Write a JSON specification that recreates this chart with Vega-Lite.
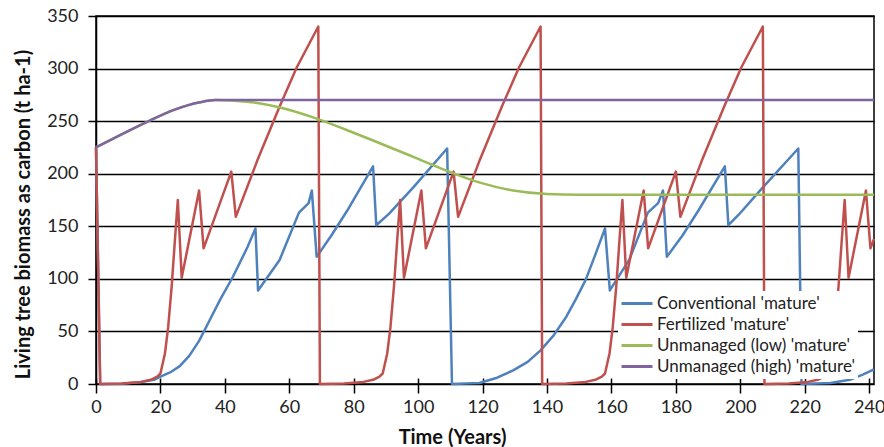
{
  "$schema": "https://vega.github.io/schema/vega-lite/v6.json",
  "width": 778,
  "height": 368,
  "autosize": {"type": "none"},
  "padding": {"left": 96, "top": 16, "right": 10, "bottom": 63},
  "background": "white",
  "config": {"font": "Lato", "view": {"stroke": "black", "strokeWidth": 1.5}},
  "encoding": {
    "x": {
      "field": "t", "type": "quantitative",
      "scale": {"domain": [0, 241.5], "nice": false, "zero": false},
      "axis": {
        "title": "Time (Years)", "values": [0,20,40,60,80,100,120,140,160,180,200,220,240],
        "grid": false, "domain": false, "offset": -6, "tickSize": 15, "tickColor": "black", "tickWidth": 1.5,
        "labelFontSize": 18, "labelColor": "#222", "labelPadding": 5, "labelFlush": false, "labelOverlap": false,
        "titleFontSize": 20, "titleFontWeight": "bold", "titleColor": "#111", "titlePadding": 11, "titleX": 356, "titleAnchor": "middle"
      }
    },
    "y": {
      "field": "v", "type": "quantitative",
      "scale": {"domain": [0, 350], "nice": false},
      "axis": {
        "title": "Living tree biomass as carbon (t ha-1)", "values": [0,50,100,150,200,250,300,350],
        "grid": true, "gridColor": "black", "gridWidth": 1.5,
        "domainColor": "black", "domainWidth": 1.5, "tickColor": "black", "tickWidth": 1.5, "tickSize": 8,
        "labelFontSize": 18, "labelColor": "#222", "labelPadding": 10,
        "titleFontSize": 20, "titleFontWeight": "bold", "titleColor": "#111", "titlePadding": 13, "titleY": 198, "titleAnchor": "middle"
      }
    },
    "color": {
      "field": "s", "type": "nominal",
      "scale": {
        "domain": ["Conventional 'mature'", "Fertilized 'mature'", "Unmanaged (low) 'mature'", "Unmanaged (high) 'mature'"],
        "range": ["#4F81BD", "#C0504D", "#9BBB59", "#8064A2"]
      },
      "legend": {
        "title": null, "orient": "none", "legendX": 522, "legendY": 275, "fillColor": "white", "padding": 2,
        "symbolType": "stroke", "symbolSize": 961, "symbolStrokeWidth": 3, "clipHeight": 21,
        "labelFontSize": 17, "labelColor": "#222", "labelOffset": 3, "labelLimit": 400, "rowPadding": 0
      }
    }
  },
  "layer": [
    {
      "data": {"values": [
        {"s":"Conventional 'mature'","t":0,"v":225},{"s":"Conventional 'mature'","t":1.3,"v":0},{"s":"Conventional 'mature'","t":8,"v":0.3},{"s":"Conventional 'mature'","t":14,"v":2},{"s":"Conventional 'mature'","t":18,"v":4},{"s":"Conventional 'mature'","t":20,"v":7},{"s":"Conventional 'mature'","t":23,"v":11},{"s":"Conventional 'mature'","t":26,"v":17},{"s":"Conventional 'mature'","t":29,"v":27},{"s":"Conventional 'mature'","t":32,"v":41},{"s":"Conventional 'mature'","t":35,"v":59},{"s":"Conventional 'mature'","t":38.5,"v":80},{"s":"Conventional 'mature'","t":42.5,"v":102},{"s":"Conventional 'mature'","t":47,"v":130},{"s":"Conventional 'mature'","t":49.5,"v":148},{"s":"Conventional 'mature'","t":50.3,"v":89},{"s":"Conventional 'mature'","t":57,"v":118},{"s":"Conventional 'mature'","t":63,"v":163},{"s":"Conventional 'mature'","t":66,"v":172},{"s":"Conventional 'mature'","t":67,"v":184},{"s":"Conventional 'mature'","t":68.5,"v":121},{"s":"Conventional 'mature'","t":73,"v":141},{"s":"Conventional 'mature'","t":78,"v":165},{"s":"Conventional 'mature'","t":86,"v":207},{"s":"Conventional 'mature'","t":87,"v":151},{"s":"Conventional 'mature'","t":91,"v":162},{"s":"Conventional 'mature'","t":98.5,"v":187},{"s":"Conventional 'mature'","t":109,"v":224},{"s":"Conventional 'mature'","t":110.5,"v":0},{"s":"Conventional 'mature'","t":119,"v":1},{"s":"Conventional 'mature'","t":124.5,"v":6},{"s":"Conventional 'mature'","t":129.5,"v":13},{"s":"Conventional 'mature'","t":134,"v":21},{"s":"Conventional 'mature'","t":138,"v":32},{"s":"Conventional 'mature'","t":142,"v":46},{"s":"Conventional 'mature'","t":146,"v":64},{"s":"Conventional 'mature'","t":149,"v":81},{"s":"Conventional 'mature'","t":152,"v":99},{"s":"Conventional 'mature'","t":155,"v":123},{"s":"Conventional 'mature'","t":158,"v":148},{"s":"Conventional 'mature'","t":159.5,"v":89},{"s":"Conventional 'mature'","t":165.5,"v":118},{"s":"Conventional 'mature'","t":171.3,"v":163},{"s":"Conventional 'mature'","t":174.5,"v":172},{"s":"Conventional 'mature'","t":176,"v":184},{"s":"Conventional 'mature'","t":177.2,"v":121},{"s":"Conventional 'mature'","t":182,"v":141},{"s":"Conventional 'mature'","t":187,"v":165},{"s":"Conventional 'mature'","t":195.2,"v":207},{"s":"Conventional 'mature'","t":196.3,"v":151},{"s":"Conventional 'mature'","t":199.5,"v":161},{"s":"Conventional 'mature'","t":207,"v":187},{"s":"Conventional 'mature'","t":218,"v":224},{"s":"Conventional 'mature'","t":219,"v":0},{"s":"Conventional 'mature'","t":228,"v":1},{"s":"Conventional 'mature'","t":234,"v":4},{"s":"Conventional 'mature'","t":238,"v":9},{"s":"Conventional 'mature'","t":241.5,"v":14},
        {"s":"Fertilized 'mature'","t":0,"v":225},{"s":"Fertilized 'mature'","t":1.3,"v":0},{"s":"Fertilized 'mature'","t":8,"v":0.5},{"s":"Fertilized 'mature'","t":14,"v":2},{"s":"Fertilized 'mature'","t":17,"v":4},{"s":"Fertilized 'mature'","t":19,"v":7},{"s":"Fertilized 'mature'","t":20,"v":10},{"s":"Fertilized 'mature'","t":21.4,"v":29},{"s":"Fertilized 'mature'","t":22.4,"v":54},{"s":"Fertilized 'mature'","t":23.5,"v":93},{"s":"Fertilized 'mature'","t":24.5,"v":137},{"s":"Fertilized 'mature'","t":25.4,"v":175},{"s":"Fertilized 'mature'","t":26.6,"v":101},{"s":"Fertilized 'mature'","t":32,"v":184},{"s":"Fertilized 'mature'","t":33.4,"v":129},{"s":"Fertilized 'mature'","t":42,"v":202},{"s":"Fertilized 'mature'","t":43.4,"v":159},{"s":"Fertilized 'mature'","t":50,"v":212},{"s":"Fertilized 'mature'","t":57,"v":264},{"s":"Fertilized 'mature'","t":62.3,"v":301},{"s":"Fertilized 'mature'","t":69,"v":340},
        {"s":"Fertilized 'mature'","t":69.5,"v":0},{"s":"Fertilized 'mature'","t":77,"v":0.5},{"s":"Fertilized 'mature'","t":83,"v":2},{"s":"Fertilized 'mature'","t":86,"v":4},{"s":"Fertilized 'mature'","t":88,"v":7},{"s":"Fertilized 'mature'","t":89,"v":10},{"s":"Fertilized 'mature'","t":90.4,"v":29},{"s":"Fertilized 'mature'","t":91.4,"v":54},{"s":"Fertilized 'mature'","t":92.5,"v":93},{"s":"Fertilized 'mature'","t":93.5,"v":137},{"s":"Fertilized 'mature'","t":94.4,"v":175},{"s":"Fertilized 'mature'","t":95.6,"v":101},{"s":"Fertilized 'mature'","t":101,"v":184},{"s":"Fertilized 'mature'","t":102.4,"v":129},{"s":"Fertilized 'mature'","t":111,"v":202},{"s":"Fertilized 'mature'","t":112.4,"v":159},{"s":"Fertilized 'mature'","t":119,"v":212},{"s":"Fertilized 'mature'","t":126,"v":264},{"s":"Fertilized 'mature'","t":131.3,"v":301},{"s":"Fertilized 'mature'","t":138,"v":340},
        {"s":"Fertilized 'mature'","t":138.5,"v":0},{"s":"Fertilized 'mature'","t":146,"v":0.5},{"s":"Fertilized 'mature'","t":152,"v":2},{"s":"Fertilized 'mature'","t":155,"v":4},{"s":"Fertilized 'mature'","t":157,"v":7},{"s":"Fertilized 'mature'","t":158,"v":10},{"s":"Fertilized 'mature'","t":159.4,"v":29},{"s":"Fertilized 'mature'","t":160.4,"v":54},{"s":"Fertilized 'mature'","t":161.5,"v":93},{"s":"Fertilized 'mature'","t":162.5,"v":137},{"s":"Fertilized 'mature'","t":163.4,"v":175},{"s":"Fertilized 'mature'","t":164.6,"v":101},{"s":"Fertilized 'mature'","t":170,"v":184},{"s":"Fertilized 'mature'","t":171.4,"v":129},{"s":"Fertilized 'mature'","t":180,"v":202},{"s":"Fertilized 'mature'","t":181.4,"v":159},{"s":"Fertilized 'mature'","t":188,"v":212},{"s":"Fertilized 'mature'","t":195,"v":264},{"s":"Fertilized 'mature'","t":200.3,"v":301},{"s":"Fertilized 'mature'","t":207,"v":340},
        {"s":"Fertilized 'mature'","t":207.5,"v":0},{"s":"Fertilized 'mature'","t":215,"v":0.5},{"s":"Fertilized 'mature'","t":221,"v":2},{"s":"Fertilized 'mature'","t":224,"v":4},{"s":"Fertilized 'mature'","t":226,"v":7},{"s":"Fertilized 'mature'","t":227,"v":10},{"s":"Fertilized 'mature'","t":228.4,"v":29},{"s":"Fertilized 'mature'","t":229.4,"v":54},{"s":"Fertilized 'mature'","t":230.5,"v":93},{"s":"Fertilized 'mature'","t":231.5,"v":137},{"s":"Fertilized 'mature'","t":232.4,"v":175},{"s":"Fertilized 'mature'","t":233.6,"v":101},{"s":"Fertilized 'mature'","t":239,"v":184},{"s":"Fertilized 'mature'","t":240.4,"v":129},{"s":"Fertilized 'mature'","t":241.5,"v":138}
      ]},
      "mark": {"type": "line", "strokeWidth": 2.5, "interpolate": "linear", "strokeJoin": "round"}
    },
    {
      "data": {"values": [
        {"s":"Unmanaged (low) 'mature'","t":0,"v":225},{"s":"Unmanaged (low) 'mature'","t":6.4,"v":235},{"s":"Unmanaged (low) 'mature'","t":15.7,"v":249},{"s":"Unmanaged (low) 'mature'","t":24,"v":260.5},{"s":"Unmanaged (low) 'mature'","t":32.3,"v":268},{"s":"Unmanaged (low) 'mature'","t":37,"v":270},{"s":"Unmanaged (low) 'mature'","t":46.8,"v":268.5},{"s":"Unmanaged (low) 'mature'","t":57.1,"v":263},{"s":"Unmanaged (low) 'mature'","t":67.4,"v":253.6},{"s":"Unmanaged (low) 'mature'","t":77.8,"v":241.6},{"s":"Unmanaged (low) 'mature'","t":88.1,"v":229},{"s":"Unmanaged (low) 'mature'","t":98.5,"v":216},{"s":"Unmanaged (low) 'mature'","t":108.8,"v":203},{"s":"Unmanaged (low) 'mature'","t":119.2,"v":191.5},{"s":"Unmanaged (low) 'mature'","t":129.5,"v":184},{"s":"Unmanaged (low) 'mature'","t":139.9,"v":180.7},{"s":"Unmanaged (low) 'mature'","t":150,"v":180},{"s":"Unmanaged (low) 'mature'","t":241.5,"v":180},
        {"s":"Unmanaged (high) 'mature'","t":0,"v":225},{"s":"Unmanaged (high) 'mature'","t":6.4,"v":235},{"s":"Unmanaged (high) 'mature'","t":15.7,"v":249},{"s":"Unmanaged (high) 'mature'","t":24,"v":260.5},{"s":"Unmanaged (high) 'mature'","t":32.3,"v":268},{"s":"Unmanaged (high) 'mature'","t":37,"v":270},{"s":"Unmanaged (high) 'mature'","t":241.5,"v":270}
      ]},
      "mark": {"type": "line", "strokeWidth": 2.5, "interpolate": "monotone"}
    }
  ]
}
